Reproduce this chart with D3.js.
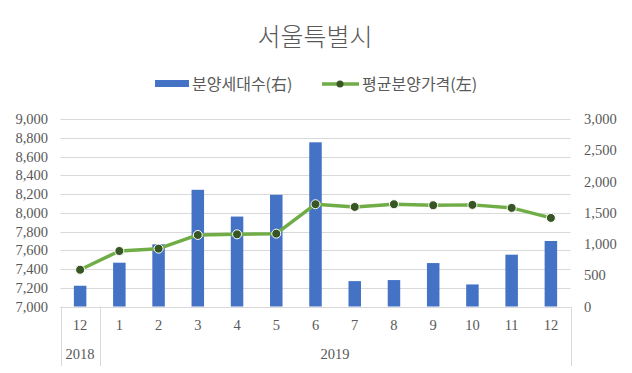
<!DOCTYPE html>
<html>
<head>
<meta charset="utf-8">
<script src="https://cdn.jsdelivr.net/npm/d3@7"></script>
<style>
  body { margin: 0; background: #fff; }
  svg { display: block; }
  .tick-label { font-family: "Liberation Serif", "Times New Roman", serif; font-size: 14.5px; fill: #595959; }
  .kr { font-family: "Noto Sans CJK KR", "Noto Sans", sans-serif; fill: #595959; }
</style>
</head>
<body>
<svg data-chart></svg>
<script>
const months = ['12', '1', '2', '3', '4', '5', '6', '7', '8', '9', '10', '11', '12']
const years = [{label: '2018', from: 0, to: 0}, {label: '2019', from: 1, to: 12}]
const units = [332, 701, 995, 1867, 1439, 1787, 2627, 406, 423, 695, 353, 829, 1048]
const prices = [7392, 7592, 7617, 7763, 7770, 7777, 8091, 8062, 8091, 8080, 8084, 8052, 7945]
const leftTicks = [7000, 7200, 7400, 7600, 7800, 8000, 8200, 8400, 8600, 8800, 9000]
const rightTicks = [0, 500, 1000, 1500, 2000, 2500, 3000]

const W = 632, H = 373
const plot = {left: 60.5, right: 570.5, top: 119, bottom: 306.5}

const blue = '#4472C4', green = '#70AD47', dot = '#375623', grid = '#D9D9D9'

let svg = d3.select('[data-chart]')
    .attr('width', W)
    .attr('height', H)

let x = d3.scaleBand()
    .domain(d3.range(months.length))
    .range([plot.left, plot.right])
    .padding(0)

let yL = d3.scaleLinear().domain([7000, 9000]).range([plot.bottom, plot.top])
let yR = d3.scaleLinear().domain([0, 3000]).range([plot.bottom, plot.top])

// title
svg.append('text')
    .attr('class', 'kr')
    .attr('x', 315)
    .attr('y', 46)
    .attr('text-anchor', 'middle')
    .style('font-size', '25px')
    .style('font-weight', 300)
    .text('서울특별시')

// legend
let legend = svg.append('g').attr('transform', 'translate(0,84)')
legend.append('rect')
    .attr('x', 155).attr('y', -4).attr('width', 34).attr('height', 7)
    .attr('fill', blue)
legend.append('text')
    .attr('class', 'kr')
    .attr('x', 192).attr('y', 5.5)
    .style('font-size', '16px')
    .text('분양세대수(右)')
legend.append('line')
    .attr('x1', 322).attr('x2', 359).attr('y1', 0).attr('y2', 0)
    .attr('stroke', green).attr('stroke-width', 3.5)
legend.append('circle')
    .attr('cx', 340).attr('cy', 0).attr('r', 3.5)
    .attr('fill', dot)
legend.append('text')
    .attr('class', 'kr')
    .attr('x', 362).attr('y', 5.5)
    .style('font-size', '16px')
    .text('평균분양가격(左)')

// gridlines
svg.append('g')
    .selectAll('line')
    .data(leftTicks)
    .join('line')
    .attr('x1', plot.left).attr('x2', plot.right)
    .attr('y1', d => Math.round(yL(d)) + 0.5)
    .attr('y2', d => Math.round(yL(d)) + 0.5)
    .attr('stroke', grid)
    .attr('stroke-width', 1)

// left axis labels
svg.append('g')
    .selectAll('text')
    .data(leftTicks)
    .join('text')
    .attr('class', 'tick-label')
    .attr('x', 48)
    .attr('y', d => yL(d) + 5)
    .attr('text-anchor', 'end')
    .text(d3.format(','))

// right axis labels
svg.append('g')
    .selectAll('text')
    .data(rightTicks)
    .join('text')
    .attr('class', 'tick-label')
    .attr('x', 584)
    .attr('y', d => yR(d) + 5)
    .text(d3.format(','))

// category axis frame
let cat = svg.append('g')
let edges = [plot.left, x(1), plot.right]
cat.selectAll('line')
    .data(edges)
    .join('line')
    .attr('x1', d => Math.round(d) + 0.5).attr('x2', d => Math.round(d) + 0.5)
    .attr('y1', plot.bottom).attr('y2', 366)
    .attr('stroke', grid)

cat.selectAll('text.month')
    .data(months)
    .join('text')
    .attr('class', 'tick-label month')
    .attr('x', (d, i) => x(i) + x.bandwidth() / 2)
    .attr('y', 330)
    .attr('text-anchor', 'middle')
    .text(d => d)

cat.selectAll('text.year')
    .data(years)
    .join('text')
    .attr('class', 'tick-label year')
    .attr('x', d => (x(d.from) + x(d.to) + x.bandwidth()) / 2)
    .attr('y', 359)
    .attr('text-anchor', 'middle')
    .text(d => d.label)

// bars
let barW = 12.5
svg.append('g')
    .selectAll('rect')
    .data(units)
    .join('rect')
    .attr('x', (d, i) => x(i) + (x.bandwidth() - barW) / 2)
    .attr('y', d => yR(d))
    .attr('width', barW)
    .attr('height', d => yR(0) - yR(d))
    .attr('fill', blue)

// line
let line = d3.line()
    .x((d, i) => x(i) + x.bandwidth() / 2)
    .y(d => yL(d))

svg.append('path')
    .datum(prices)
    .attr('d', line)
    .attr('fill', 'none')
    .attr('stroke', green)
    .attr('stroke-width', 3.5)
    .attr('stroke-linejoin', 'round')

svg.append('g')
    .selectAll('circle')
    .data(prices)
    .join('circle')
    .attr('cx', (d, i) => x(i) + x.bandwidth() / 2)
    .attr('cy', d => yL(d))
    .attr('r', 4.5)
    .attr('fill', dot)
    .attr('stroke', '#fff')
    .attr('stroke-width', 1)
</script>
</body>
</html>
